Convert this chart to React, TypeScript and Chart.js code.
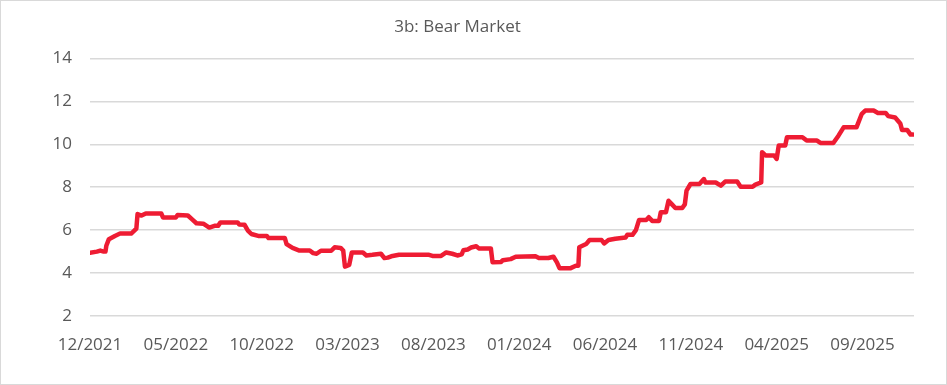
import { useEffect, useRef } from "react";
import { Chart, registerables } from "chart.js";

Chart.register(...registerables);

const titleText = "3b: Bear Market";
const tickLabels = ["12/2021", "05/2022", "10/2022", "03/2023", "08/2023", "01/2024", "06/2024", "11/2024", "04/2025", "09/2025"];
const tickMonths = [0, 5, 10, 15, 20, 25, 30, 35, 40, 45];

// months since 12/2021
const months = [
  0.0, 0.4, 0.6, 0.8, 0.9, 0.95, 1.1, 1.45, 1.75, 2.4, 2.55, 2.7, 2.77, 3.0, 3.25, 4.15, 4.25, 5.0, 5.1, 5.7,
  5.95, 6.2, 6.6, 6.95, 7.25, 7.46, 7.6, 8.6, 8.7, 9.0, 9.2, 9.4, 9.8, 10.3, 10.4, 11.35, 11.45, 11.8, 12.2, 12.8,
  13.0, 13.2, 13.45, 14.05, 14.25, 14.6, 14.75, 14.85, 15.1, 15.25, 15.9, 16.1, 16.45, 16.7, 16.95, 17.15, 17.35, 17.55, 18.0, 19.75,
  19.95, 20.45, 20.75, 21.1, 21.4, 21.65, 21.75, 22.0, 22.2, 22.5, 22.65, 23.35, 23.45, 23.95, 24.05, 24.5, 24.8, 25.95, 26.15, 26.7,
  27.0, 27.2, 27.35, 28.0, 28.3, 28.45, 28.5, 28.9, 29.1, 29.8, 29.95, 30.2, 30.6, 31.2, 31.3, 31.6, 31.8, 31.98, 32.4, 32.55,
  32.75, 33.15, 33.25, 33.55, 33.7, 33.9, 34.1, 34.5, 34.65, 34.75, 34.98, 35.5, 35.76, 35.85, 36.45, 36.75, 37.0, 37.7, 37.9, 38.6,
  38.76, 39.1, 39.15, 39.35, 39.85, 40.0, 40.12, 40.5, 40.6, 41.5, 41.75, 42.35, 42.55, 43.3, 43.6, 43.9, 44.65, 44.96, 45.16, 45.65,
  45.9, 46.35, 46.5, 46.9, 47.2, 47.3, 47.6, 47.8, 47.95,
];

const values = [
  4.95, 5.0, 5.05, 5.0, 5.0, 5.27, 5.58, 5.73, 5.84, 5.84, 5.95, 6.07, 6.75, 6.68, 6.78, 6.78, 6.59, 6.59, 6.7, 6.68,
  6.5, 6.32, 6.3, 6.12, 6.2, 6.2, 6.36, 6.36, 6.26, 6.25, 5.98, 5.82, 5.73, 5.73, 5.63, 5.63, 5.35, 5.17, 5.05, 5.05,
  4.93, 4.9, 5.04, 5.04, 5.2, 5.17, 5.05, 4.3, 4.38, 4.96, 4.96, 4.82, 4.85, 4.88, 4.9, 4.7, 4.72, 4.78, 4.85, 4.85,
  4.8, 4.8, 4.96, 4.9, 4.82, 4.87, 5.06, 5.1, 5.19, 5.25, 5.15, 5.15, 4.5, 4.52, 4.6, 4.65, 4.76, 4.78, 4.7, 4.7,
  4.76, 4.5, 4.23, 4.23, 4.34, 4.34, 5.2, 5.35, 5.54, 5.54, 5.38, 5.54, 5.6, 5.66, 5.78, 5.78, 6.0, 6.47, 6.47, 6.6,
  6.43, 6.43, 6.83, 6.83, 7.37, 7.2, 7.03, 7.03, 7.2, 7.84, 8.15, 8.15, 8.38, 8.22, 8.22, 8.07, 8.26, 8.26, 8.02, 8.02,
  8.12, 8.22, 9.63, 9.48, 9.48, 9.32, 9.94, 9.94, 10.33, 10.33, 10.17, 10.17, 10.06, 10.06, 10.4, 10.79, 10.79, 11.42, 11.57, 11.57,
  11.46, 11.46, 11.31, 11.25, 10.97, 10.67, 10.67, 10.45, 10.45,
];

const yTicks = [2, 4, 6, 8, 10, 12, 14];

export default function App() {
  const ref = useRef<HTMLCanvasElement>(null);

  useEffect(() => {
    if (!ref.current) return;
    const textColor = "#595959";
    const font = { family: "'Open Sans', sans-serif", size: 17, weight: "normal" as const };
    const chart = new Chart(ref.current, {
      type: "line",
      data: {
        datasets: [
          {
            data: months.map((m, i) => ({ x: m, y: values[i] })),
            borderColor: "#EE1C33",
            backgroundColor: "#EE1C33",
            borderWidth: 4.5,
            pointRadius: 0,
            tension: 0,
            borderJoinStyle: "round",
            borderCapStyle: "round",
          },
        ],
      },
      options: {
        animation: false,
        responsive: true,
        maintainAspectRatio: false,
        layout: { padding: { left: 0, right: 32, top: 0, bottom: 0 } },
        plugins: {
          legend: { display: false },
          tooltip: { enabled: false },
          title: {
            display: true,
            text: titleText,
            color: textColor,
            font: { family: "'Open Sans', sans-serif", size: 17, weight: "normal" },
            padding: { top: 16, bottom: 21 },
          },
        },
        scales: {
          x: {
            type: "linear",
            min: 0,
            max: 48,
            grid: { display: false, drawTicks: false },
            border: { display: false },
            afterBuildTicks: (s: any) => {
              s.ticks = tickMonths.map((v) => ({ value: v }));
            },
            afterFit: (s: any) => {
              s.height = 68;
            },
            ticks: {
              autoSkip: false,
              maxRotation: 0,
              color: textColor,
              font,
              padding: 19,
              callback: (v: any) => {
                const i = tickMonths.indexOf(Number(v));
                return i >= 0 ? tickLabels[i] : "";
              },
            },
          },
          y: {
            min: 2,
            max: 14,
            afterBuildTicks: (s: any) => {
              s.ticks = yTicks.map((v) => ({ value: v }));
            },
            afterFit: (s: any) => {
              s.width = 89;
            },
            grid: { color: "#D9D9D9", lineWidth: 1.5, drawTicks: false },
            border: { display: false },
            ticks: { color: textColor, font, padding: 18 },
          },
        },
      },
    });
    return () => chart.destroy();
  }, []);

  return (
    <div
      style={{
        position: "fixed",
        left: 0,
        top: 0,
        width: 947,
        height: 385,
        boxSizing: "border-box",
        border: "1px solid #D9D9D9",
        background: "#fff",
      }}
    >
      <canvas ref={ref} />
    </div>
  );
}
